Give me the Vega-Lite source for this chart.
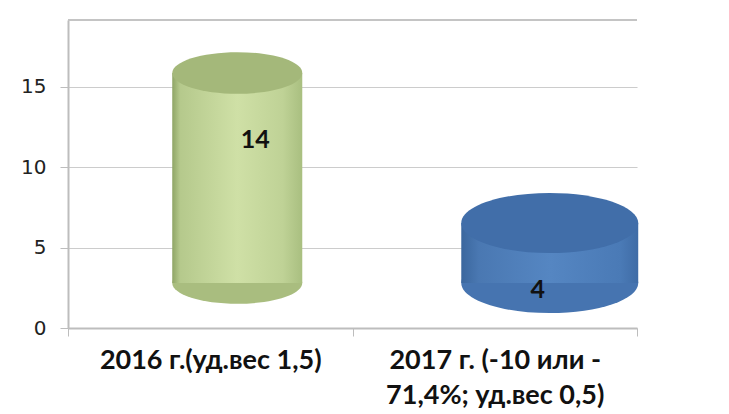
{
  "$schema": "https://vega.github.io/schema/vega-lite/v6.json",
  "width": 569,
  "height": 308,
  "autosize": {"type": "none"},
  "padding": {"left": 68, "top": 20, "right": 92, "bottom": 86},
  "background": "white",
  "config": {"view": {"stroke": null}},
  "datasets": {
    "main": [
      {"cat": "2016 г.(уд.вес 1,5)", "value": 14, "series": "2016"},
      {"cat": "2017 г. (-10 или -71,4%;  уд.вес 0,5)", "value": 4, "series": "2017"}
    ]
  },
  "data": {"name": "main"},
  "layer": [
    {
      "mark": {"type": "rule", "color": "#c4c4c4", "strokeWidth": 2},
      "encoding": {
        "y": {
          "datum": 19.17,
          "type": "quantitative",
          "scale": {"domain": [0, 19.17], "nice": false, "zero": true},
          "axis": {
            "title": null,
            "values": [0, 5, 10, 15],
            "labelFont": "DejaVu Sans",
            "labelFontSize": 20,
            "labelColor": "#222222",
            "labelPadding": 14,
            "tickColor": "#bdbdbd",
            "tickSize": 8,
            "domainColor": "#bdbdbd",
            "domainWidth": 2,
            "grid": true,
            "gridColor": "#cccccc",
            "gridWidth": 1.2
          }
        }
      }
    },
    {
      "encoding": {
        "x": {
          "field": "cat",
          "type": "nominal",
          "sort": null,
          "scale": {"paddingInner": 0, "paddingOuter": 0},
          "axis": {
            "title": null,
            "labelAngle": 0,
            "labelFont": "Lato",
            "labelFontWeight": "bold",
            "labelFontSize": 27,
            "labelColor": "#111111",
            "labelLineHeight": 35,
            "labelPadding": 11,
            "labelLimit": 400,
            "labelExpr": "indexof(datum.label, 'или') > 0 ? ['2017 г. (-10 или -', '71,4%;  уд.вес 0,5)'] : datum.label",
            "domainColor": "#bdbdbd",
            "domainWidth": 2,
            "tickColor": "#bdbdbd",
            "tickSize": 8,
            "tickBand": "extent"
          }
        },
        "y": {"field": "value", "type": "quantitative", "scale": {"domain": [-3.0, 17.53], "nice": false, "zero": false}, "axis": null}
      },
      "layer": [
        {
          "transform": [{"filter": "datum.series == '2016'"}],
          "layer": [
            {
              "mark": {"type": "point", "filled": true, "opacity": 1, "xOffset": 27, "size": 16900, "color": "#a9bd7f", "shape": "M-1,0A1,0.32,0,1,0,1,0A1,0.32,0,1,0,-1,0Z"},
              "encoding": {"y": {"datum": 0, "type": "quantitative"}}
            },
            {
              "mark": {
                "type": "bar",
                "width": {"band": 0.457},
                "xOffset": 27,
                "fill": {
                  "x1": 0, "x2": 1, "y1": 0, "y2": 0,
                  "gradient": "linear",
                  "stops": [
                    {"offset": 0, "color": "#8fa566"},
                    {"offset": 0.06, "color": "#b5c98c"},
                    {"offset": 0.5, "color": "#cfe0a6"},
                    {"offset": 0.85, "color": "#bfd296"},
                    {"offset": 1, "color": "#a9bf80"}
                  ]
                }
              }
            },
            {
              "mark": {"type": "point", "filled": true, "opacity": 1, "xOffset": 27, "size": 16900, "color": "#a4b87a", "shape": "M-1,0A1,0.32,0,1,0,1,0A1,0.32,0,1,0,-1,0Z"}
            },
            {
              "mark": {"type": "text", "xOffset": 45, "dy": 67, "font": "Lato", "fontWeight": "bold", "fontSize": 25, "color": "#111111", "baseline": "middle"},
              "encoding": {"text": {"field": "value", "type": "quantitative"}}
            }
          ]
        },
        {
          "transform": [{"filter": "datum.series == '2017'"}],
          "layer": [
            {
              "mark": {"type": "point", "filled": true, "opacity": 1, "xOffset": 55, "size": 31329, "color": "#4674b0", "shape": "M-1,0A1,0.34,0,1,0,1,0A1,0.34,0,1,0,-1,0Z"},
              "encoding": {"y": {"datum": 0, "type": "quantitative"}}
            },
            {
              "mark": {
                "type": "bar",
                "width": {"band": 0.622},
                "xOffset": 55,
                "fill": {
                  "x1": 0, "x2": 1, "y1": 0, "y2": 0,
                  "gradient": "linear",
                  "stops": [
                    {"offset": 0, "color": "#3b679e"},
                    {"offset": 0.1, "color": "#4a78b2"},
                    {"offset": 0.5, "color": "#5586c2"},
                    {"offset": 0.9, "color": "#4a7ab6"},
                    {"offset": 1, "color": "#3f6ca6"}
                  ]
                }
              }
            },
            {
              "mark": {"type": "point", "filled": true, "opacity": 1, "xOffset": 55, "size": 31329, "color": "#416ea9", "shape": "M-1,0A1,0.34,0,1,0,1,0A1,0.34,0,1,0,-1,0Z"}
            },
            {
              "mark": {"type": "text", "xOffset": 43, "dy": 67, "font": "Lato", "fontWeight": "bold", "fontSize": 25, "color": "#111111", "baseline": "middle"},
              "encoding": {"text": {"field": "value", "type": "quantitative"}}
            }
          ]
        }
      ]
    }
  ],
  "resolve": {"scale": {"y": "independent"}}
}
